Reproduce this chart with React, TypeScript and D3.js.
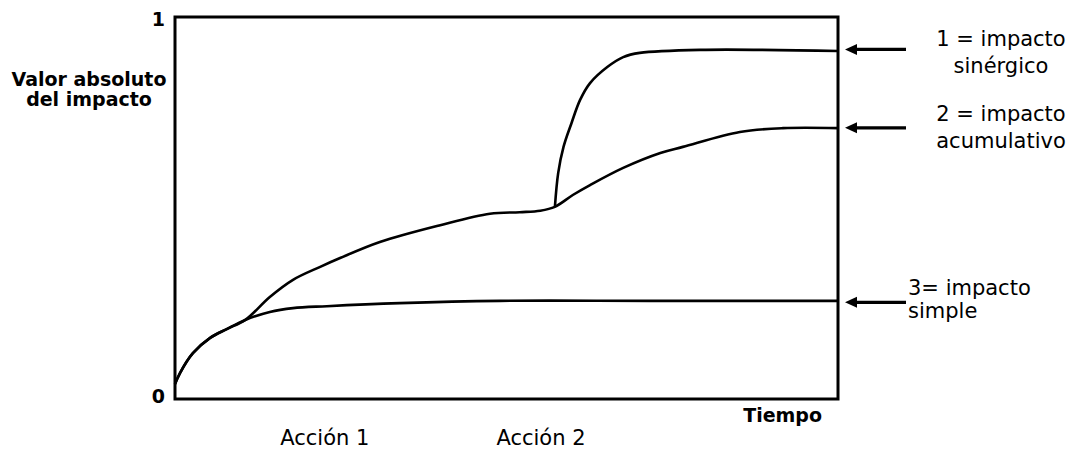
import React from "react";
import * as d3 from "d3";

// Time axis (0..100) and impact value (0..1)
const simpleT = [0, 0.75, 2.7, 5.3, 7.8, 10.6, 14.3, 17.8, 22.9, 33.9, 49.0, 71.6, 100];
const simpleV = [0.039, 0.068, 0.12, 0.16, 0.183, 0.207, 0.228, 0.238, 0.243, 0.251, 0.257, 0.257, 0.257];

const cumulT = [0, 0.75, 2.7, 5.3, 7.8, 10.6, 14.3, 17.8, 21.9, 24.9, 30.9, 40.0, 47.5, 52.0, 55.1, 57.3, 60.0, 62.6, 67.6, 73.2, 76.6, 85.2, 91.7, 100];
const cumulV = [0.039, 0.068, 0.12, 0.16, 0.183, 0.207, 0.267, 0.312, 0.346, 0.369, 0.411, 0.455, 0.485, 0.489, 0.493, 0.503, 0.534, 0.56, 0.605, 0.644, 0.66, 0.699, 0.709, 0.709];

const synT = [57.3, 57.8, 58.6, 59.8, 61.1, 62.6, 65.2, 67.6, 70.1, 79.2, 100];
const synV = [0.503, 0.592, 0.66, 0.722, 0.783, 0.827, 0.869, 0.895, 0.906, 0.914, 0.911];

const yTickLabels = ["0", "1"];
const yTickValues = [0, 1];
const yTitle = ["Valor absoluto", "del impacto"];
const xTitle = "Tiempo";
const actionLabels = ["Acción 1", "Acción 2"];
const actionCenters = [22.6, 55.2];

const legendLines = [
  ["1 = impacto", "sinérgico"],
  ["2 = impacto", "acumulativo"],
  ["3= impacto", "simple"],
];
const legendArrowValues = [0.915, 0.71, 0.253];

const W = 1070;
const H = 452;
const left = 175;
const right = 838;
const top = 17;
const bottom = 399;

export default function App() {
  const x = d3.scaleLinear().domain([0, 100]).range([left, right]);
  const y = d3.scaleLinear().domain([0, 1]).range([bottom, top]);
  const line = d3
    .line<[number, number]>()
    .x((d) => x(d[0]))
    .y((d) => y(d[1]))
    .curve(d3.curveCatmullRom.alpha(0.5));

  const series = [
    d3.zip(simpleT, simpleV) as [number, number][],
    d3.zip(cumulT, cumulV) as [number, number][],
    d3.zip(synT, synV) as [number, number][],
  ];

  const font = "'DejaVu Sans', sans-serif";
  const arrowStart = 906;
  const arrowTip = 845;
  const legendCenter = 1001;

  return (
    <svg
      width={W}
      height={H}
      style={{ position: "absolute", left: 0, top: 0, display: "block", background: "#fff" }}
    >
      {series.map((s, i) => (
        <path key={i} d={line(s) || ""} fill="none" stroke="#000" strokeWidth={2.6} strokeLinejoin="round" />
      ))}
      <rect
        x={left}
        y={top}
        width={right - left}
        height={bottom - top}
        fill="none"
        stroke="#000"
        strokeWidth={3}
      />
      {yTickValues.map((v, i) => (
        <text
          key={i}
          x={165}
          y={y(v) + (v === 1 ? 9 : 4)}
          textAnchor="end"
          fontFamily={font}
          fontWeight="bold"
          fontSize={19}
        >
          {yTickLabels[i]}
        </text>
      ))}
      {yTitle.map((t, i) => (
        <text
          key={i}
          x={89}
          y={86 + i * 20}
          textAnchor="middle"
          fontFamily={font}
          fontWeight="bold"
          fontSize={19}
        >
          {t}
        </text>
      ))}
      <text x={822} y={422} textAnchor="end" fontFamily={font} fontWeight="bold" fontSize={19}>
        {xTitle}
      </text>
      {actionLabels.map((t, i) => (
        <text key={i} x={x(actionCenters[i])} y={445} textAnchor="middle" fontFamily={font} fontSize={21}>
          {t}
        </text>
      ))}
      {legendArrowValues.map((v, i) => {
        const ay = y(v);
        return (
          <g key={i}>
            <line x1={arrowStart} y1={ay} x2={arrowTip + 10} y2={ay} stroke="#000" strokeWidth={3.2} />
            <path d={`M${arrowTip},${ay} L${arrowTip + 12},${ay - 5.5} L${arrowTip + 12},${ay + 5.5} Z`} fill="#000" />
          </g>
        );
      })}
      <text x={legendCenter} y={46} textAnchor="middle" fontFamily={font} fontSize={21}>
        {legendLines[0][0]}
      </text>
      <text x={legendCenter} y={73} textAnchor="middle" fontFamily={font} fontSize={21}>
        {legendLines[0][1]}
      </text>
      <text x={legendCenter} y={121} textAnchor="middle" fontFamily={font} fontSize={21}>
        {legendLines[1][0]}
      </text>
      <text x={legendCenter} y={148} textAnchor="middle" fontFamily={font} fontSize={21}>
        {legendLines[1][1]}
      </text>
      <text x={908} y={295} textAnchor="start" fontFamily={font} fontSize={21}>
        {legendLines[2][0]}
      </text>
      <text x={908} y={318} textAnchor="start" fontFamily={font} fontSize={21}>
        {legendLines[2][1]}
      </text>
    </svg>
  );
}
